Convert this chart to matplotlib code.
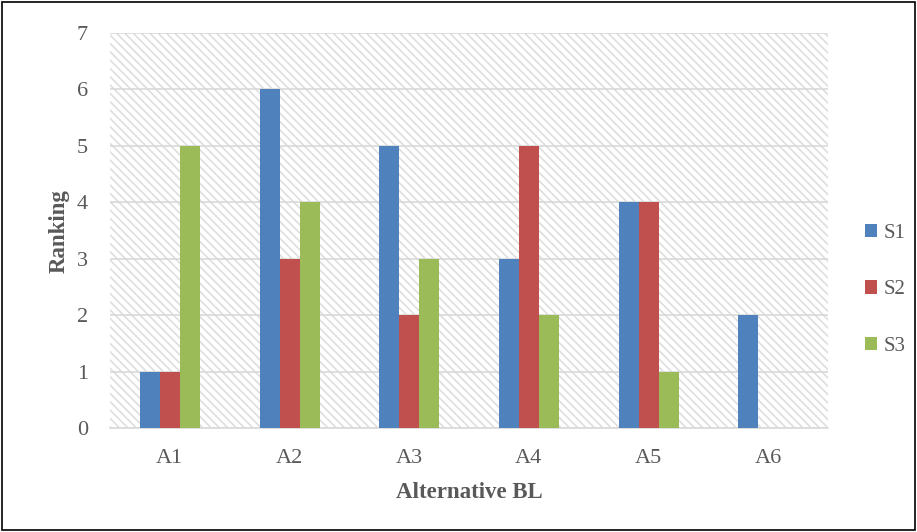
import numpy as np
import matplotlib.pyplot as plt
from matplotlib.patches import Rectangle

categories = ['A1', 'A2', 'A3', 'A4', 'A5', 'A6']
s1 = [1, 6, 5, 3, 4, 2]
s2 = [1, 3, 2, 5, 4, 0]
s3 = [5, 4, 3, 2, 1, 0]
series = [('S1', s1, '#4f81bd'), ('S2', s2, '#c0504d'), ('S3', s3, '#9bbb59')]

plt.rcParams['font.family'] = ['Liberation Serif', 'DejaVu Serif']
plt.rcParams['hatch.linewidth'] = 1.2
plt.rcParams['hatch.color'] = '#dedede'

fig = plt.figure(figsize=(9.17, 5.32), dpi=100)
ax = fig.add_axes([0.12, 0.195, 0.783, 0.743])

# hatched plot background
bg = Rectangle((0, 0), 1, 1, transform=ax.transAxes, facecolor='white',
               edgecolor='#dedede', hatch='\\\\\\\\', linewidth=0, zorder=0)
ax.add_patch(bg)

x = np.arange(len(categories))
w = 0.167
for i, (name, vals, col) in enumerate(series):
    ax.bar(x + (i - 1) * w, vals, width=w, color=col, label=name, zorder=3)

ax.set_xlim(-0.5, len(categories) - 0.5)
ax.set_ylim(0, 7)
ax.set_yticks(range(8))
ax.set_xticks(x)
ax.set_xticklabels(categories)
ax.yaxis.grid(True, color='#d9d9d9', linewidth=1.2, zorder=1)
ax.set_axisbelow(True)
for sp in ['top', 'right', 'left']:
    ax.spines[sp].set_visible(False)
ax.spines['bottom'].set_color('#d9d9d9')
ax.spines['bottom'].set_linewidth(1.2)
ax.tick_params(axis='x', length=0, labelsize=16, colors='#595959', pad=15)
ax.tick_params(axis='y', length=0, labelsize=16, colors='#595959', pad=16)

ax.set_ylabel('Ranking', fontsize=16.5, fontweight='bold', color='#595959', labelpad=5)
ax.set_xlabel('Alternative BL', fontsize=16.5, fontweight='bold', color='#595959', labelpad=10)

leg = ax.legend(loc='center left', bbox_to_anchor=(1.025, 0.35), frameon=False,
                fontsize=15, labelspacing=1.81, handlelength=0.6, handleheight=0.6,
                handletextpad=0.3)
for t in leg.get_texts():
    t.set_color('#595959')

fig.patches.append(Rectangle((0.002, 0.003), 0.996, 0.994, transform=fig.transFigure,
                             fill=False, edgecolor='black', linewidth=1.2))

fig.savefig('out.png', dpi=100)
